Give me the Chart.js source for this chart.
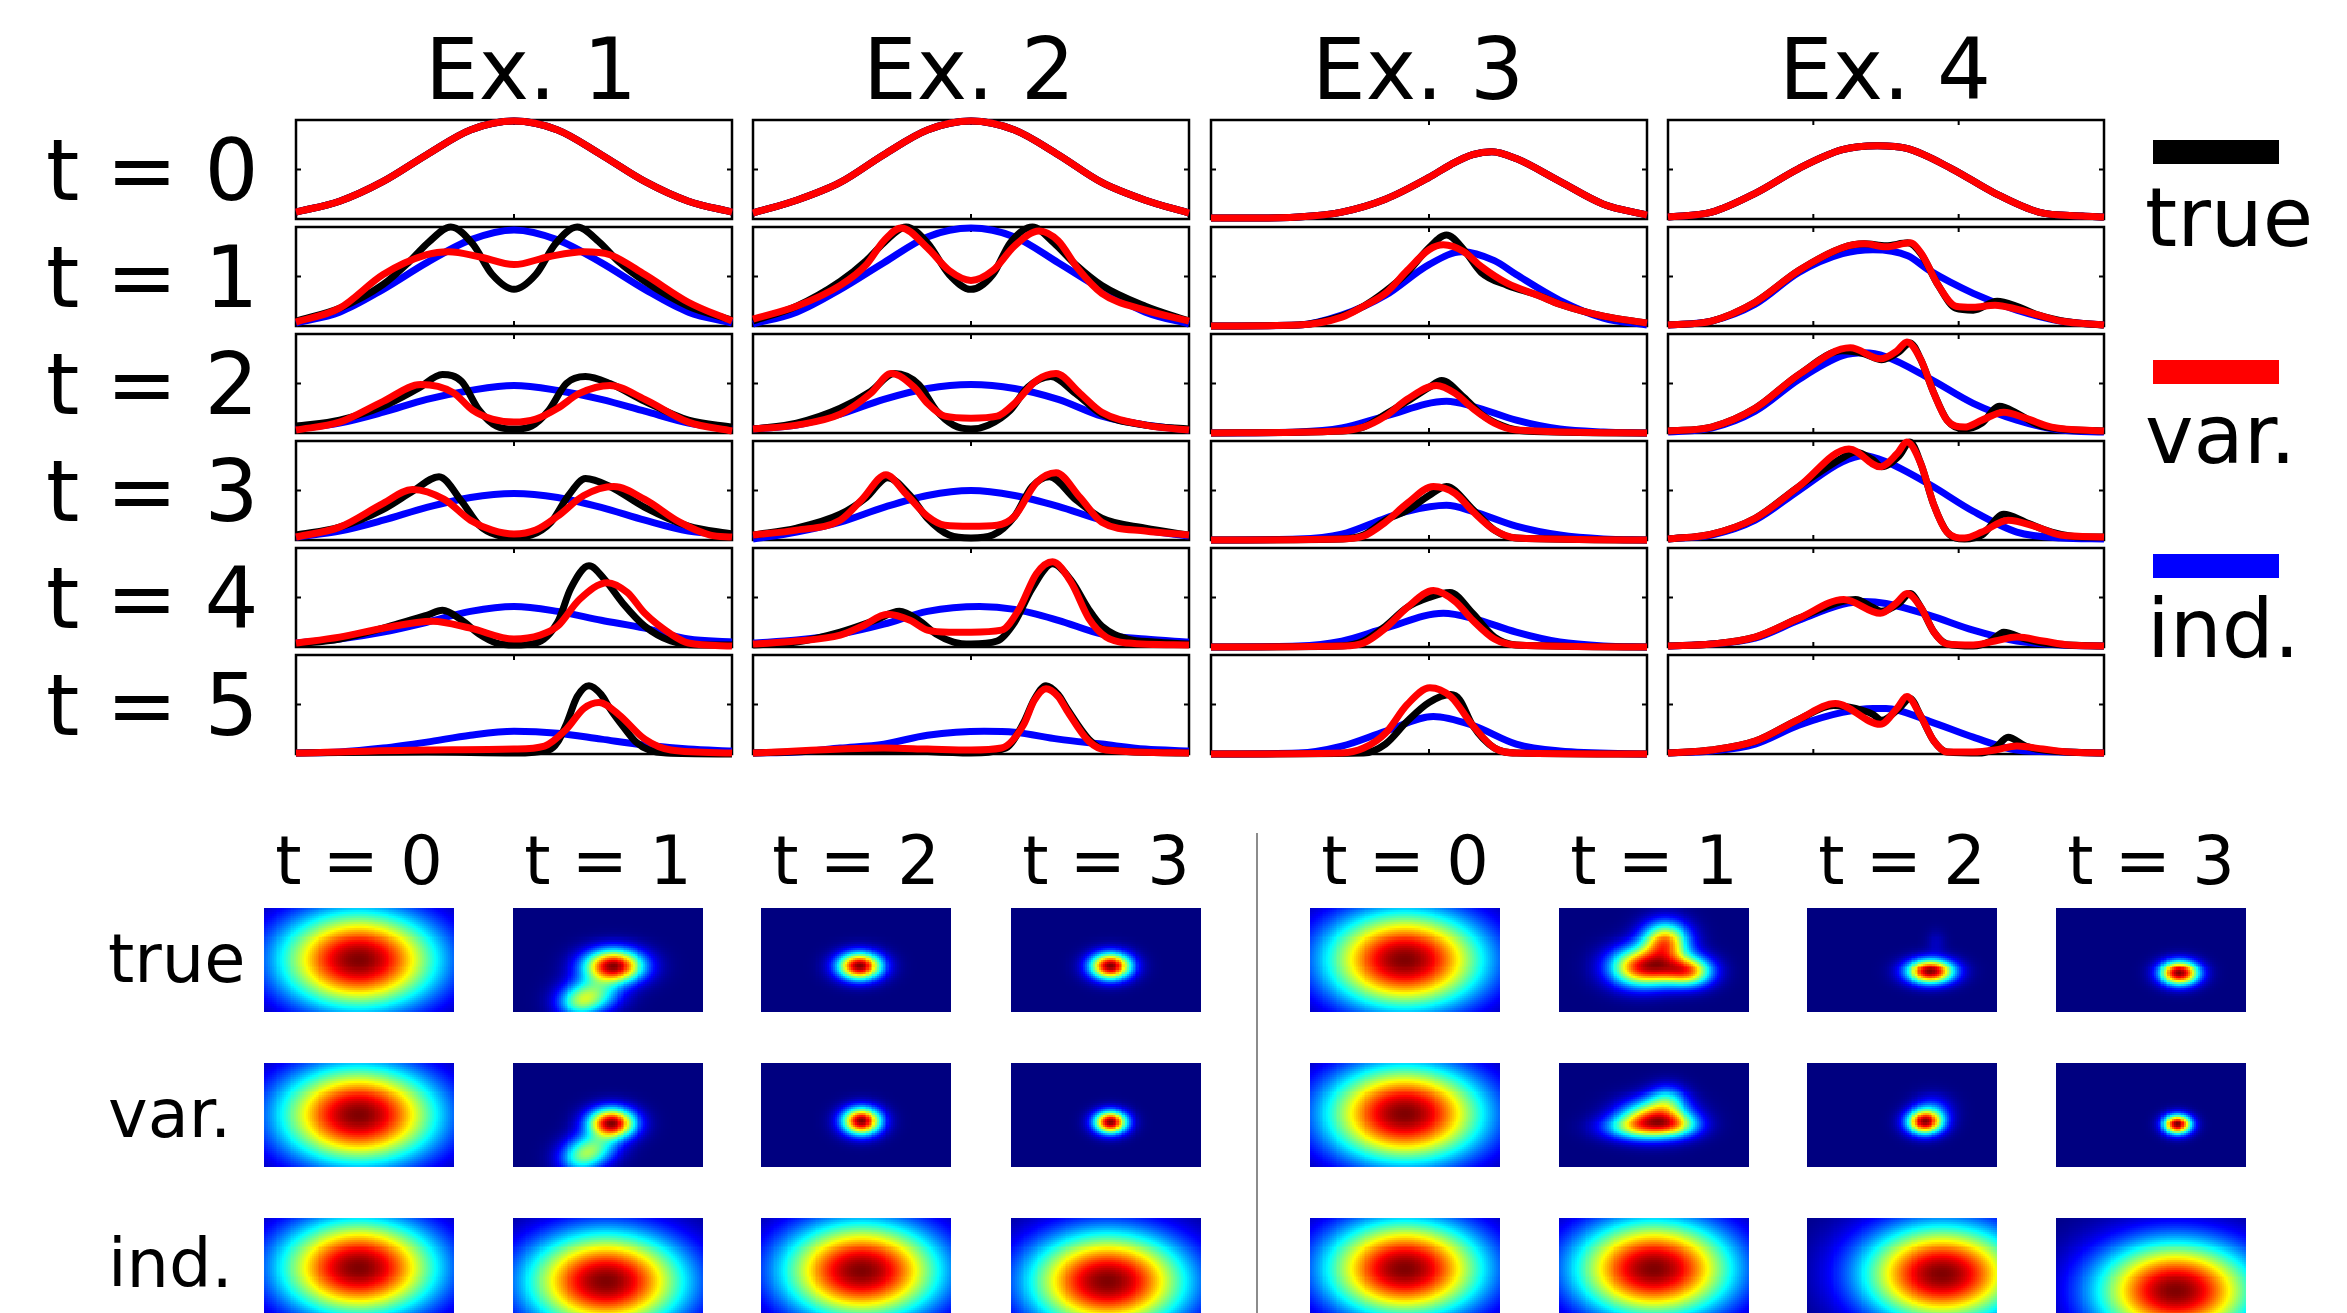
<!DOCTYPE html>
<html lang="en">
<head>
<meta charset="utf-8">
<title>True vs variational vs independent filtering</title>
<style>
  body { margin: 0; background: #fff; }
  #page { position: relative; width: 2347px; height: 1313px; overflow: hidden; font-family: 'DejaVu Sans', sans-serif; color: #000; }
  #page canvas { position: absolute; }
  .lbl { position: absolute; line-height: 1; white-space: nowrap; }
</style>
</head>
<body>
<div id="page"></div>
<script src="https://cdn.jsdelivr.net/npm/chart.js@4.4.1/dist/chart.umd.min.js"></script>
<script>
// ---- labels ----
var examples = ['Ex. 1', 'Ex. 2', 'Ex. 3', 'Ex. 4'];
var steps = ['t = 0', 't = 1', 't = 2', 't = 3', 't = 4', 't = 5'];
var seriesNames = ['true', 'var.', 'ind.'];
var heatSteps = ['t = 0', 't = 1', 't = 2', 't = 3'];
var xTickPositions = [[0.5], [0.5], [0.5], [1 / 3, 2 / 3]];
var yTickPositions = [0.5];

// ---- 1D densities, [x, y] pairs (t = 0 shared) ----
var ex1Start = [[0,.07],[.1,.18],[.2,.38],[.3,.65],[.4,.9],[.5,.99],[.6,.9],[.7,.65],[.8,.38],[.9,.18],[1,.07]];
var ex1True = [
  [[0,.05],[.1,.18],[.2,.42],[.26,.65],[.305,.85],[.355,1],[.405,.83],[.45,.52],[.5,.37],[.55,.52],[.595,.83],[.645,1],[.695,.85],[.74,.65],[.8,.45],[.9,.2],[1,.06]],
  [[0,.07],[.1,.13],[.2,.27],[.28,.45],[.336,.59],[.38,.52],[.42,.23],[.46,.07],[.5,.04],[.54,.07],[.58,.23],[.62,.5],[.664,.57],[.72,.5],[.8,.32],[.9,.13],[1,.06]],
  [[0,.05],[.1,.13],[.2,.31],[.27,.5],[.328,.64],[.38,.39],[.42,.15],[.46,.05],[.5,.03],[.54,.05],[.585,.18],[.625,.45],[.664,.62],[.72,.54],[.8,.33],[.9,.14],[1,.06]],
  [[0,.03],[.1,.08],[.2,.19],[.3,.32],[.336,.37],[.38,.27],[.42,.13],[.46,.04],[.5,.02],[.55,.04],[.6,.25],[.63,.59],[.672,.82],[.71,.67],[.75,.44],[.8,.21],[.86,.06],[.92,.02],[1,.02]],
  [[0,.01],[.3,.02],[.5,.01],[.58,.04],[.6,.12],[.62,.3],[.645,.58],[.672,.69],[.7,.6],[.72,.46],[.75,.28],[.78,.12],[.81,.04],[.85,.01],[1,0]]
];
var ex1Var = [
  [[0,.04],[.1,.18],[.2,.52],[.3,.72],[.35,.75],[.42,.7],[.5,.62],[.58,.7],[.66,.75],[.72,.72],[.8,.52],[.9,.24],[1,.05]],
  [[0,.03],[.1,.11],[.2,.32],[.286,.49],[.36,.41],[.405,.23],[.45,.14],[.5,.11],[.55,.14],[.6,.25],[.65,.4],[.72,.48],[.8,.34],[.9,.11],[1,.02]],
  [[0,.03],[.1,.13],[.2,.37],[.267,.51],[.34,.41],[.4,.2],[.45,.1],[.5,.06],[.55,.1],[.6,.24],[.66,.45],[.729,.54],[.8,.41],[.88,.18],[.95,.05],[1,.03]],
  [[0,.04],[.1,.1],[.2,.19],[.313,.26],[.4,.19],[.5,.08],[.56,.12],[.6,.21],[.65,.48],[.714,.65],[.76,.55],[.8,.34],[.86,.13],[.9,.04],[1,.01]],
  [[0,.01],[.3,.04],[.5,.05],[.57,.08],[.62,.25],[.66,.46],[.695,.52],[.74,.4],[.8,.15],[.86,.04],[1,.01]]
];
var ex1Ind = [
  [[0,.03],[.1,.14],[.2,.37],[.3,.64],[.4,.87],[.5,.97],[.6,.87],[.7,.64],[.8,.37],[.9,.14],[1,.03]],
  [[0,.04],[.1,.1],[.2,.21],[.3,.34],[.4,.43],[.5,.48],[.6,.43],[.7,.34],[.8,.22],[.9,.1],[1,.04]],
  [[0,.03],[.1,.09],[.2,.2],[.3,.33],[.4,.43],[.5,.47],[.6,.43],[.7,.33],[.8,.2],[.9,.09],[1,.05]],
  [[0,.04],[.1,.08],[.2,.15],[.3,.25],[.4,.36],[.5,.41],[.6,.36],[.7,.27],[.8,.19],[.9,.08],[1,.05]],
  [[0,.01],[.1,.02],[.2,.06],[.3,.12],[.4,.19],[.5,.23],[.6,.21],[.7,.15],[.8,.09],[.9,.05],[1,.03]]
];

var ex2Start = [[0,.06],[.1,.19],[.2,.37],[.3,.65],[.4,.9],[.5,.99],[.6,.9],[.7,.65],[.8,.37],[.9,.19],[1,.06]];
var ex2True = [
  [[0,.05],[.1,.2],[.2,.45],[.26,.66],[.3,.84],[.351,1],[.4,.84],[.45,.52],[.5,.37],[.55,.52],[.59,.84],[.641,1],[.69,.84],[.74,.62],[.8,.41],[.9,.2],[1,.05]],
  [[0,.04],[.1,.1],[.2,.25],[.27,.42],[.324,.6],[.38,.49],[.42,.23],[.46,.08],[.5,.04],[.54,.08],[.59,.23],[.63,.46],[.683,.57],[.74,.4],[.8,.19],[.9,.08],[1,.04]],
  [[0,.05],[.1,.12],[.2,.26],[.26,.43],[.309,.63],[.36,.45],[.4,.22],[.45,.05],[.5,.02],[.55,.05],[.6,.24],[.64,.54],[.68,.64],[.74,.41],[.8,.22],[.9,.12],[1,.05]],
  [[0,.02],[.1,.05],[.2,.15],[.28,.27],[.336,.36],[.38,.27],[.42,.13],[.46,.05],[.5,.03],[.56,.06],[.6,.25],[.64,.59],[.687,.84],[.73,.67],[.77,.38],[.8,.21],[.86,.08],[.92,.05],[1,.03]],
  [[0,.01],[.3,.04],[.5,.01],[.58,.06],[.62,.31],[.645,.55],[.672,.69],[.7,.6],[.72,.46],[.77,.15],[.81,.04],[1,.01]]
];
var ex2Var = [
  [[0,.07],[.1,.2],[.2,.41],[.26,.62],[.3,.86],[.34,.99],[.4,.79],[.45,.56],[.5,.46],[.55,.56],[.6,.81],[.656,.96],[.7,.86],[.745,.58],[.8,.33],[.9,.16],[1,.05]],
  [[0,.04],[.1,.08],[.2,.19],[.27,.4],[.317,.6],[.37,.46],[.4,.3],[.44,.17],[.5,.15],[.56,.17],[.6,.3],[.65,.53],[.695,.6],[.75,.4],[.8,.21],[.9,.08],[1,.03]],
  [[0,.05],[.1,.1],[.2,.2],[.25,.41],[.305,.66],[.35,.47],[.4,.24],[.44,.15],[.5,.14],[.56,.15],[.6,.24],[.65,.58],[.695,.68],[.75,.43],[.8,.18],[.9,.09],[1,.05]],
  [[0,.03],[.1,.06],[.2,.12],[.25,.21],[.309,.33],[.36,.27],[.4,.17],[.45,.15],[.5,.15],[.57,.17],[.61,.38],[.65,.74],[.687,.86],[.73,.65],[.77,.29],[.81,.1],[.86,.04],[1,.02]],
  [[0,.01],[.3,.06],[.4,.05],[.5,.04],[.57,.06],[.62,.29],[.645,.54],[.672,.66],[.7,.58],[.72,.44],[.77,.13],[.81,.04],[1,.01]]
];
var ex2Ind = [
  [[0,.02],[.1,.14],[.2,.37],[.3,.64],[.4,.9],[.5,.99],[.6,.9],[.7,.64],[.8,.37],[.9,.14],[1,.02]],
  [[0,.04],[.1,.08],[.2,.19],[.3,.34],[.4,.45],[.5,.49],[.6,.45],[.7,.34],[.8,.17],[.9,.08],[1,.03]],
  [[0,.01],[.1,.08],[.2,.18],[.3,.33],[.4,.45],[.5,.5],[.6,.45],[.7,.34],[.8,.2],[.9,.1],[1,.04]],
  [[0,.04],[.1,.07],[.2,.13],[.3,.23],[.4,.36],[.52,.41],[.6,.38],[.7,.27],[.8,.13],[.9,.08],[1,.05]],
  [[0,.01],[.1,.02],[.2,.06],[.3,.1],[.4,.19],[.53,.23],[.6,.22],[.7,.15],[.8,.1],[.9,.05],[1,.03]]
];

var ex3Start = [[0,.01],[.1,.01],[.2,.02],[.3,.07],[.4,.2],[.5,.42],[.55,.55],[.6,.65],[.644,.68],[.7,.61],[.8,.38],[.9,.15],[1,.04]];
var ex3True = [
  [[0,0],[.2,.01],[.3,.1],[.35,.2],[.4,.35],[.45,.54],[.5,.79],[.54,.92],[.58,.77],[.62,.54],[.68,.41],[.75,.31],[.8,.22],[.9,.1],[1,.03]],
  [[0,0],[.3,.02],[.35,.06],[.4,.19],[.45,.32],[.5,.46],[.529,.53],[.58,.36],[.62,.19],[.67,.07],[.72,.02],[1,0]],
  [[0,0],[.3,.01],[.35,.05],[.4,.2],[.45,.3],[.5,.45],[.54,.54],[.6,.31],[.65,.1],[.7,.02],[1,0]],
  [[0,0],[.3,.01],[.35,.06],[.4,.21],[.45,.4],[.5,.5],[.548,.55],[.6,.34],[.65,.1],[.7,.02],[1,0]],
  [[0,0],[.35,.01],[.4,.1],[.45,.33],[.5,.52],[.55,.6],[.57,.55],[.6,.29],[.65,.06],[.7,.01],[1,0]]
];
var ex3Var = [
  [[0,0],[.2,.01],[.3,.09],[.35,.2],[.4,.33],[.45,.56],[.5,.77],[.533,.82],[.58,.75],[.62,.6],[.68,.43],[.75,.31],[.8,.22],[.9,.1],[1,.03]],
  [[0,0],[.3,.02],[.35,.06],[.4,.17],[.45,.34],[.517,.48],[.56,.4],[.6,.25],[.65,.1],[.7,.03],[1,0]],
  [[0,0],[.3,.01],[.35,.04],[.4,.18],[.45,.37],[.51,.54],[.56,.47],[.6,.29],[.65,.1],[.7,.02],[1,0]],
  [[0,0],[.3,.01],[.35,.04],[.4,.19],[.45,.4],[.51,.57],[.56,.46],[.6,.27],[.65,.08],[.7,.02],[1,0]],
  [[0,0],[.3,.01],[.35,.06],[.4,.21],[.45,.5],[.502,.67],[.55,.58],[.6,.29],[.65,.06],[.7,.01],[1,0]]
];
var ex3Ind = [
  [[0,0],[.2,.01],[.3,.11],[.4,.31],[.5,.62],[.575,.75],[.65,.66],[.7,.52],[.8,.26],[.9,.08],[1,.01]],
  [[0,0],[.2,.01],[.3,.05],[.4,.17],[.54,.32],[.6,.27],[.7,.13],[.8,.04],[.9,.01],[1,0]],
  [[0,0],[.2,.01],[.3,.06],[.4,.22],[.45,.29],[.54,.35],[.6,.29],[.7,.14],[.8,.05],[.9,.01],[1,0]],
  [[0,0],[.2,.01],[.3,.06],[.4,.19],[.533,.34],[.6,.29],[.7,.15],[.8,.05],[.9,.01],[1,0]],
  [[0,0],[.2,.01],[.3,.08],[.4,.23],[.51,.38],[.6,.29],[.7,.1],[.8,.03],[1,0]]
];

var ex4Start = [[0,.02],[.1,.07],[.2,.26],[.3,.51],[.4,.7],[.48,.74],[.55,.71],[.65,.51],[.75,.26],[.85,.07],[.95,.03],[1,.02]];
var ex4True = [
  [[0,.01],[.1,.05],[.2,.24],[.3,.56],[.4,.79],[.45,.83],[.5,.81],[.55,.84],[.58,.73],[.62,.41],[.66,.18],[.7,.16],[.755,.25],[.8,.2],[.85,.11],[.92,.04],[1,.01]],
  [[0,.02],[.1,.06],[.2,.25],[.3,.59],[.4,.83],[.45,.8],[.49,.74],[.53,.82],[.555,.91],[.58,.74],[.61,.4],[.64,.13],[.68,.04],[.72,.1],[.76,.27],[.8,.2],[.85,.08],[.9,.04],[1,.02]],
  [[0,.01],[.1,.06],[.2,.22],[.3,.54],[.4,.83],[.43,.89],[.47,.81],[.49,.74],[.53,.85],[.555,.99],[.58,.77],[.61,.35],[.64,.08],[.68,.01],[.72,.05],[.77,.26],[.82,.18],[.88,.08],[.95,.03],[1,.03]],
  [[0,.01],[.1,.03],[.2,.1],[.3,.29],[.4,.46],[.43,.48],[.47,.4],[.49,.36],[.53,.44],[.555,.54],[.58,.4],[.61,.15],[.64,.03],[.7,.01],[.74,.06],[.77,.15],[.82,.08],[.88,.03],[1,.01]],
  [[0,.01],[.1,.04],[.2,.13],[.3,.35],[.38,.49],[.43,.46],[.47,.4],[.49,.34],[.53,.46],[.555,.56],[.58,.38],[.61,.13],[.64,.02],[.72,.01],[.75,.06],[.78,.17],[.82,.08],[.88,.03],[1,.01]]
];
var ex4Var = [
  [[0,.01],[.1,.05],[.2,.24],[.3,.56],[.4,.79],[.45,.83],[.5,.8],[.555,.84],[.58,.74],[.62,.41],[.66,.2],[.7,.19],[.75,.21],[.8,.17],[.85,.11],[.9,.05],[1,.01]],
  [[0,.02],[.1,.06],[.2,.25],[.3,.59],[.418,.86],[.487,.75],[.525,.83],[.548,.92],[.58,.74],[.61,.4],[.64,.13],[.68,.06],[.72,.13],[.77,.21],[.82,.15],[.88,.06],[1,.02]],
  [[0,.01],[.1,.06],[.2,.22],[.3,.54],[.415,.92],[.487,.74],[.525,.87],[.548,.99],[.58,.77],[.61,.35],[.64,.08],[.68,.02],[.72,.08],[.78,.2],[.84,.14],[.9,.05],[1,.03]],
  [[0,.01],[.1,.03],[.2,.1],[.3,.29],[.403,.48],[.487,.34],[.525,.45],[.548,.54],[.58,.4],[.61,.15],[.64,.03],[.7,.02],[.75,.06],[.8,.1],[.86,.06],[.92,.02],[1,.01]],
  [[0,.01],[.1,.04],[.2,.13],[.3,.35],[.384,.51],[.487,.3],[.525,.46],[.548,.58],[.58,.38],[.61,.13],[.64,.02],[.7,.02],[.75,.04],[.8,.08],[.86,.05],[.92,.02],[1,.01]]
];
var ex4Ind = [
  [[0,.01],[.1,.05],[.2,.22],[.3,.54],[.4,.73],[.47,.77],[.55,.71],[.6,.56],[.7,.33],[.8,.16],[.9,.05],[1,.01]],
  [[0,.01],[.1,.05],[.2,.22],[.3,.54],[.4,.78],[.45,.81],[.5,.77],[.6,.55],[.7,.3],[.8,.13],[.9,.03],[1,.01]],
  [[0,.01],[.1,.05],[.2,.2],[.3,.5],[.4,.79],[.45,.85],[.5,.79],[.6,.56],[.7,.29],[.8,.08],[.9,.02],[1,.01]],
  [[0,.01],[.1,.03],[.2,.09],[.3,.27],[.4,.43],[.45,.46],[.5,.44],[.6,.32],[.7,.17],[.8,.06],[.9,.02],[1,.01]],
  [[0,.01],[.1,.03],[.2,.1],[.3,.29],[.4,.42],[.47,.46],[.5,.46],[.6,.33],[.7,.17],[.8,.04],[.9,.02],[1,.01]]
];

// ---- 2D densities: blobs [cx, cy, sx, sy, weight] per panel (t = 0..3) ----
var leftTrue = [
  [[.5,.5,.29,.33,1]],
  [[.53,.56,.107,.11,1],[.42,.83,.1,.11,.42],[.34,.93,.08,.1,.3]],
  [[.52,.56,.08,.09,1]],
  [[.525,.56,.075,.088,1]]
];
var leftVar = [
  [[.5,.5,.29,.33,1]],
  [[.52,.58,.085,.1,1],[.42,.82,.09,.1,.4],[.35,.94,.08,.1,.3]],
  [[.53,.56,.07,.09,1]],
  [[.525,.57,.06,.075,1]]
];
var leftInd = [
  [[.5,.48,.29,.33,1]],
  [[.49,.61,.29,.33,1]],
  [[.53,.51,.29,.33,1]],
  [[.51,.61,.29,.33,1]]
];
var rightTrue = [
  [[.5,.5,.29,.33,1]],
  [[.42,.57,.11,.13,1],[.56,.32,.085,.13,.95],[.69,.61,.085,.1,.85],[.56,.58,.09,.11,.45]],
  [[.65,.61,.085,.08,1],[.68,.33,.035,.08,.06]],
  [[.65,.625,.07,.08,1]]
];
var rightVar = [
  [[.5,.49,.29,.33,1]],
  [[.5,.53,.12,.12,1],[.57,.35,.07,.1,.4],[.39,.62,.12,.08,.5],[.62,.6,.09,.08,.5]],
  [[.62,.57,.065,.08,1],[.66,.45,.07,.1,.2]],
  [[.64,.59,.05,.065,1]]
];
var rightInd = [
  [[.5,.49,.29,.33,1]],
  [[.5,.49,.29,.33,1]],
  [[.71,.54,.29,.33,1]],
  [[.63,.7,.29,.33,1]]
];

var lineExamples = [
  { start: ex1Start, tru: ex1True, vari: ex1Var, ind: ex1Ind },
  { start: ex2Start, tru: ex2True, vari: ex2Var, ind: ex2Ind },
  { start: ex3Start, tru: ex3True, vari: ex3Var, ind: ex3Ind },
  { start: ex4Start, tru: ex4True, vari: ex4Var, ind: ex4Ind }
];
var heatGroups = [[leftTrue, leftVar, leftInd], [rightTrue, rightVar, rightInd]];

// ---- layout ----
var page = document.getElementById('page');
var PAD = 7;
var LINE_W = 7;
var panelLeft = [296, 753, 1211, 1668], panelW = 436, panelTop = 119.5, rowStep = 107, panelH = 99;
var titleCenter = [531, 969, 1418, 1885];
var heatLeft = [[264, 513, 761, 1011], [1310, 1559, 1807, 2056]], heatTop = [908, 1063, 1218];
var heatW = 190, heatH = 104;
var colors = { tru: '#000000', vari: '#ff0000', ind: '#0000ff' };

function addText(txt, x, baseline, size, align) {
  var d = document.createElement('div');
  d.className = 'lbl';
  d.textContent = txt;
  d.style.fontSize = size + 'px';
  d.style.top = (baseline - 0.846 * size) + 'px';
  if (align === 'center') {
    d.style.left = (x - 300) + 'px';
    d.style.width = '600px';
    d.style.textAlign = 'center';
  } else {
    d.style.left = x + 'px';
  }
  page.appendChild(d);
}

function addCanvas(left, top, w, h) {
  var c = document.createElement('canvas');
  c.width = Math.round(w); c.height = Math.round(h);
  c.style.left = Math.round(left) + 'px';
  c.style.top = Math.round(top) + 'px';
  page.appendChild(c);
  return c;
}

function pts(pairs) {
  return pairs.map(function (p) { return { x: p[0], y: p[1] }; });
}

var framePlugin = {
  id: 'frame',
  beforeDatasetsDraw: function (chart, args, opts) {
    var ctx = chart.ctx, a = chart.chartArea, xs = chart.scales.x, ys = chart.scales.y;
    ctx.save();
    ctx.strokeStyle = '#000';
    ctx.lineWidth = 2.5;
    ctx.strokeRect(a.left, a.top, a.right - a.left, a.bottom - a.top);
    ctx.lineWidth = 2;
    ctx.beginPath();
    opts.xTicks.forEach(function (v) {
      var px = xs.getPixelForValue(v);
      ctx.moveTo(px, a.top); ctx.lineTo(px, a.top + 5);
      ctx.moveTo(px, a.bottom); ctx.lineTo(px, a.bottom - 5);
    });
    opts.yTicks.forEach(function (v) {
      var py = ys.getPixelForValue(v);
      ctx.moveTo(a.left, py); ctx.lineTo(a.left + 5, py);
      ctx.moveTo(a.right, py); ctx.lineTo(a.right - 5, py);
    });
    ctx.stroke();
    ctx.restore();
  }
};

function jet(v) {
  function c(t) { return Math.round(255 * Math.max(0, Math.min(1, t))); }
  return 'rgb(' + c(1.5 - Math.abs(4 * v - 3)) + ',' + c(1.5 - Math.abs(4 * v - 2)) + ',' + c(1.5 - Math.abs(4 * v - 1)) + ')';
}

var heatPlugin = {
  id: 'heat',
  beforeDatasetsDraw: function (chart, args, opts) {
    var ctx = chart.ctx, xs = chart.scales.x, ys = chart.scales.y;
    var nx = 95, ny = 52, vals = [], max = 0;
    for (var j = 0; j < ny; j++) {
      for (var i = 0; i < nx; i++) {
        var px = (i + 0.5) / nx, py = (j + 0.5) / ny, v = 0;
        opts.blobs.forEach(function (b) {
          var dx = (px - b[0]) / b[2], dy = (py - b[1]) / b[3];
          v += b[4] * Math.exp(-0.5 * (dx * dx + dy * dy));
        });
        vals.push(v);
        if (v > max) max = v;
      }
    }
    for (j = 0; j < ny; j++) {
      var y0 = Math.floor(ys.getPixelForValue(j / ny)), y1 = Math.ceil(ys.getPixelForValue((j + 1) / ny));
      for (i = 0; i < nx; i++) {
        var x0 = Math.floor(xs.getPixelForValue(i / nx)), x1 = Math.ceil(xs.getPixelForValue((i + 1) / nx));
        ctx.fillStyle = jet(vals[j * nx + i] / max);
        ctx.fillRect(x0, y0, x1 - x0, y1 - y0);
      }
    }
  }
};

// ---- top: line panels ----
examples.forEach(function (name, col) {
  addText(name, titleCenter[col], 99, 85, 'center');
});
steps.forEach(function (name, row) {
  addText(name, 46, panelTop + row * rowStep + 80, 85);
});

function series(label, data, color, order) {
  return {
    label: label, data: pts(data), borderColor: color, borderWidth: LINE_W,
    pointRadius: 0, cubicInterpolationMode: 'monotone', fill: false, order: order, clip: PAD
  };
}

lineExamples.forEach(function (ex, col) {
  steps.forEach(function (s, row) {
    var top = panelTop + row * rowStep;
    var cv = addCanvas(panelLeft[col] - PAD, top - PAD, panelW + 2 * PAD, panelH + 2 * PAD);
    var tru = row === 0 ? ex.start : ex.tru[row - 1];
    var vari = row === 0 ? ex.start : ex.vari[row - 1];
    var ind = row === 0 ? ex.start : ex.ind[row - 1];
    new Chart(cv, {
      type: 'line',
      data: {
        datasets: [
          series(seriesNames[1], vari, colors.vari, 0),
          series(seriesNames[0], tru, colors.tru, 1),
          series(seriesNames[2], ind, colors.ind, 2)
        ]
      },
      options: {
        responsive: false,
        animation: false,
        devicePixelRatio: 1,
        events: [],
        layout: { padding: PAD },
        scales: {
          x: { type: 'linear', min: 0, max: 1, display: false },
          y: { type: 'linear', min: 0, max: 1, display: false }
        },
        plugins: {
          legend: { display: false },
          tooltip: { enabled: false },
          frame: { xTicks: xTickPositions[col], yTicks: yTickPositions }
        }
      },
      plugins: [framePlugin]
    });
  });
});

// legend (right side)
var legendBars = [['#000000', 140], ['#ff0000', 360], ['#0000ff', 554]];
legendBars.forEach(function (b) {
  var d = document.createElement('div');
  d.style.cssText = 'position:absolute;left:2153px;width:126px;height:24px;background:' + b[0] + ';top:' + b[1] + 'px';
  page.appendChild(d);
});
addText(seriesNames[0], 2145, 246, 82);
addText(seriesNames[1], 2145, 463, 82);
addText(seriesNames[2], 2147, 657, 82);

// ---- bottom: heatmaps ----
var sep = document.createElement('div');
sep.style.cssText = 'position:absolute;left:1256px;top:833px;width:2px;height:480px;background:#8c8c8c';
page.appendChild(sep);

heatGroups.forEach(function (group, g) {
  heatSteps.forEach(function (s, k) {
    addText(s, heatLeft[g][k] + heatW / 2, 885, 67, 'center');
  });
  group.forEach(function (rowData, r) {
    rowData.forEach(function (blobs, k) {
      var cv = addCanvas(heatLeft[g][k], heatTop[r], heatW, heatH);
      new Chart(cv, {
        type: 'scatter',
        data: { datasets: [] },
        options: {
          responsive: false,
          animation: false,
          devicePixelRatio: 1,
          events: [],
          layout: { padding: 0 },
          scales: {
            x: { type: 'linear', min: 0, max: 1, display: false },
            y: { type: 'linear', min: 0, max: 1, reverse: true, display: false }
          },
          plugins: { legend: { display: false }, tooltip: { enabled: false }, heat: { blobs: blobs } }
        },
        plugins: [heatPlugin]
      });
    });
  });
});
addText(seriesNames[0], 108, 983, 67);
addText(seriesNames[1], 108, 1138, 67);
addText(seriesNames[2], 108, 1288, 67);
</script>
</body>
</html>
